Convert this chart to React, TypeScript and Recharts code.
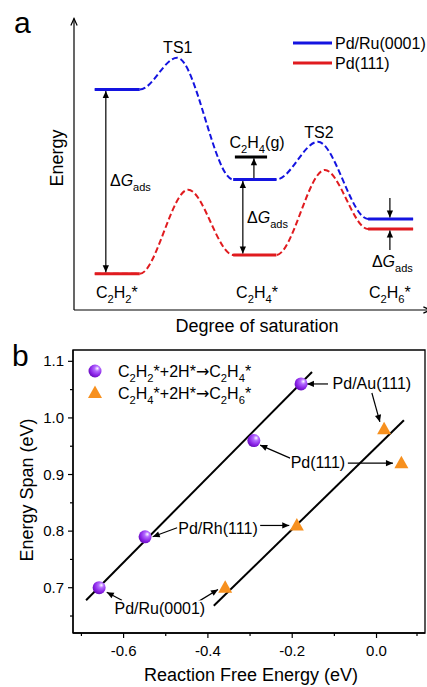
import React from 'react';
import {
  LineChart, Line, XAxis, YAxis, ReferenceLine, ReferenceDot, ReferenceArea,
  ScatterChart, Scatter, Label,
} from 'recharts';

const FONT = '"Liberation Sans", Arial, Helvetica, sans-serif';
const BLUE = '#1414e0';
const RED = '#e01b1f';
const ORANGE = '#f7901e';

// ---- panel a: energy profile (relative units) ----
const intermediates = ['C_2H_2*', 'C_2H_4*', 'C_2H_6*'];
const intermediateX = [12.4, 52.9, 91.3];
const levelSpans = [[6, 19], [46, 58.5], [85, 98]];
const pdRuLevels = [76, 45, 31.4];
const pdRuTS = [87, 58];
const pdRuTSx = [29.8, 70.5];
const pd111Levels = [12.5, 19, 27.9];
const pd111TS = [41.5, 48.3];
const pd111TSx = [33, 72.5];
const c2h4Gas = 52.8;
const c2h4GasSpan = [46.5, 55.8];

// ---- panel b: energy span vs reaction free energy ----
const surfaces = ['Pd/Ru(0001)', 'Pd/Rh(111)', 'Pd(111)', 'Pd/Au(111)'];
const acetyleneDG = [-0.658, -0.549, -0.291, -0.179];
const acetyleneSpan = [0.70, 0.79, 0.96, 1.06];
const ethyleneDG = [-0.359, -0.189, 0.059, 0.018];
const ethyleneSpan = [0.70, 0.81, 0.92, 0.98];
const fitAcetylene = [{ x: -0.689, y: 0.678 }, { x: -0.153, y: 1.081 }];
const fitEthylene = [{ x: -0.386, y: 0.668 }, { x: 0.065, y: 0.996 }];
const xTicks = [-0.7, -0.6, -0.5, -0.4, -0.3, -0.2, -0.1, 0, 0.1];
const yTicks = [0.65, 0.7, 0.75, 0.8, 0.85, 0.9, 0.95, 1.0, 1.05, 1.1];

// label spots (center x, baseline y) and arrows for panel b
const surfaceLabelPos = [
  { x: -0.514, y: 0.6535 }, { x: -0.376, y: 0.795 }, { x: -0.139, y: 0.9115 }, { x: -0.011, y: 1.051 },
];
const surfaceArrows = [
  [{ x: -0.604, y: 0.678 }, { x: -0.64, y: 0.692 }],
  [{ x: -0.424, y: 0.675 }, { x: -0.376, y: 0.697 }],
  [{ x: -0.473, y: 0.806 }, { x: -0.531, y: 0.79 }],
  [{ x: -0.276, y: 0.81 }, { x: -0.207, y: 0.81 }],
  [{ x: -0.205, y: 0.929 }, { x: -0.276, y: 0.952 }],
  [{ x: -0.068, y: 0.92 }, { x: 0.039, y: 0.92 }],
  [{ x: -0.115, y: 1.06 }, { x: -0.165, y: 1.06 }],
  [{ x: -0.011, y: 1.044 }, { x: 0.008, y: 0.993 }],
];

function Chem({ x, y, formula, size = 16, anchor = 'middle' }: any) {
  const parts: React.ReactNode[] = [];
  let inSub = false;
  for (let i = 0; i < formula.length; i++) {
    const c = formula[i];
    if (c === '_') {
      parts.push(<tspan key={i} dy={size * 0.3} fontSize={size * 0.7}>{formula[i + 1]}</tspan>);
      i++;
      inSub = true;
      continue;
    }
    parts.push(
      <tspan key={i} dy={inSub ? -size * 0.3 : 0} fontFamily={c === '→' ? '"DejaVu Sans", sans-serif' : undefined}>{c}</tspan>,
    );
    inSub = false;
  }
  return (
    <text x={x} y={y} fontSize={size} textAnchor={anchor} fontFamily={FONT} fill="#000">{parts}</text>
  );
}

function DeltaG({ x, y }: any) {
  return (
    <text x={x} y={y} fontSize={16} fontFamily={FONT} fill="#000">
      Δ<tspan fontStyle="italic">G</tspan>
      <tspan dy={5} fontSize={11}>ads</tspan>
    </text>
  );
}

const arrowShape = (both: boolean, size = 7, open = false) => (p: any) => {
  const { x1, y1, x2, y2 } = p;
  const a = Math.atan2(y2 - y1, x2 - x1);
  const head = (x: number, y: number, ang: number) => {
    const w = size * 0.45;
    const bx = x - size * Math.cos(ang);
    const by = y - size * Math.sin(ang);
    return `${bx - w * Math.sin(ang)},${by + w * Math.cos(ang)} ${x},${y} ${bx + w * Math.sin(ang)},${by - w * Math.cos(ang)}`;
  };
  return (
    <g>
      <line x1={x1} y1={y1} x2={x2} y2={y2} stroke="#000" strokeWidth={1.2} />
      {open
        ? <polyline points={head(x2, y2, a)} fill="none" stroke="#000" strokeWidth={1.2} />
        : <polygon points={head(x2, y2, a)} fill="#000" />}
      {both && <polygon points={head(x1, y1, a + Math.PI)} fill="#000" />}
    </g>
  );
};

const profile = (levels: number[], ts: number[], tsx: number[]) => [
  { x: levelSpans[0][0], e: levels[0] }, { x: levelSpans[0][1], e: levels[0] },
  { x: tsx[0], e: ts[0] },
  { x: levelSpans[1][0], e: levels[1] }, { x: levelSpans[1][1], e: levels[1] },
  { x: tsx[1], e: ts[1] },
  { x: levelSpans[2][0], e: levels[2] }, { x: levelSpans[2][1], e: levels[2] },
];

function PanelA() {
  const levelLines = (levels: number[], color: string, key: string) =>
    levels.map((e, i) => (
      <Line key={key + i} data={[{ x: levelSpans[i][0], e }, { x: levelSpans[i][1], e }]} dataKey="e"
        stroke={color} strokeWidth={3} dot={false} activeDot={false} isAnimationActive={false} />
    ));
  return (
    <LineChart width={427} height={340} margin={{ top: 20, right: 7, bottom: 0, left: 0 }}>
      <XAxis type="number" dataKey="x" domain={[0, 100]} tick={false} tickLine={false} axisLine={false} height={30} allowDataOverflow>
        <Label content={() => (
          <text x={257} y={332} textAnchor="middle" fontSize={18} fontFamily={FONT}>Degree of saturation</text>
        )} />
      </XAxis>
      <YAxis type="number" dataKey="e" domain={[0, 100]} tick={false} tickLine={false} axisLine={false} width={74} allowDataOverflow>
        <Label content={() => (
          <text x={63} y={158} transform="rotate(-90 63 158)" textAnchor="middle" fontSize={18} fontFamily={FONT}>Energy</text>
        )} />
      </YAxis>
      <ReferenceLine segment={[{ x: 0, y: 0 }, { x: 0, y: 100.5 }]} ifOverflow="visible" shape={arrowShape(false, 7, true)} />
      <ReferenceLine segment={[{ x: 0, y: 0 }, { x: 103, y: 0 }]} ifOverflow="visible" shape={arrowShape(false, 7, true)} />

      <Line data={profile(pdRuLevels, pdRuTS, pdRuTSx)} dataKey="e" type="monotoneX" stroke={BLUE} strokeWidth={2}
        strokeDasharray="6 3" dot={false} activeDot={false} isAnimationActive={false} />
      <Line data={profile(pd111Levels, pd111TS, pd111TSx)} dataKey="e" type="monotoneX" stroke={RED} strokeWidth={2}
        strokeDasharray="6 3" dot={false} activeDot={false} isAnimationActive={false} />
      {levelLines(pdRuLevels, BLUE, 'ru')}
      {levelLines(pd111Levels, RED, 'pd')}
      <Line data={[{ x: c2h4GasSpan[0], e: c2h4Gas }, { x: c2h4GasSpan[1], e: c2h4Gas }]} dataKey="e"
        stroke="#000" strokeWidth={3} dot={false} activeDot={false} isAnimationActive={false} />

      <ReferenceLine segment={[{ x: 9.2, y: pdRuLevels[0] - 0.5 }, { x: 9.2, y: pd111Levels[0] + 0.5 }]} ifOverflow="visible" shape={arrowShape(true)} />
      <ReferenceLine segment={[{ x: 48.8, y: pdRuLevels[1] - 0.5 }, { x: 48.8, y: pd111Levels[1] + 0.5 }]} ifOverflow="visible" shape={arrowShape(true)} />
      <ReferenceLine segment={[{ x: 52, y: pdRuLevels[1] + 0.5 }, { x: 52, y: c2h4Gas - 0.5 }]} ifOverflow="visible" shape={arrowShape(false)} />
      <ReferenceLine segment={[{ x: 91.3, y: 38.6 }, { x: 91.3, y: pdRuLevels[2] + 0.5 }]} ifOverflow="visible" shape={arrowShape(false)} />
      <ReferenceLine segment={[{ x: 91.3, y: 20.7 }, { x: 91.3, y: pd111Levels[2] - 0.5 }]} ifOverflow="visible" shape={arrowShape(false)} />

      <ReferenceDot x={30} y={88.6} ifOverflow="visible" shape={(p: any) => <Chem x={p.cx} y={p.cy} formula="TS1" />} />
      <ReferenceDot x={70.8} y={59.3} ifOverflow="visible" shape={(p: any) => <Chem x={p.cx} y={p.cy} formula="TS2" />} />
      <ReferenceDot x={52.9} y={55.9} ifOverflow="visible" shape={(p: any) => <Chem x={p.cx} y={p.cy} formula="C_2H_4(g)" />} />
      <ReferenceDot x={10.4} y={42.8} ifOverflow="visible" shape={(p: any) => <DeltaG x={p.cx} y={p.cy} />} />
      <ReferenceDot x={50} y={30} ifOverflow="visible" shape={(p: any) => <DeltaG x={p.cx} y={p.cy} />} />
      <ReferenceDot x={86.1} y={14.8} ifOverflow="visible" shape={(p: any) => <DeltaG x={p.cx} y={p.cy} />} />
      {intermediates.map((f, i) => (
        <ReferenceDot key={f} x={intermediateX[i]} y={4.1} ifOverflow="visible"
          shape={(p: any) => <Chem x={p.cx} y={p.cy} formula={f} />} />
      ))}
    </LineChart>
  );
}

const XTick = (p: any) => {
  const { x, y, payload } = p;
  const v = payload.value;
  const major = Math.round(v * 10) % 2 === 0;
  return (
    <g>
      <line x1={x} y1={y} x2={x} y2={y + (major ? 5 : 3)} stroke="#000" strokeWidth={1.2} />
      {major && <text x={x} y={y + 23} textAnchor="middle" fontSize={15} fontFamily={FONT}>{v.toFixed(1)}</text>}
    </g>
  );
};

const YTick = (p: any) => {
  const { x, y, payload } = p;
  const v = payload.value;
  const major = Math.round(v * 100) % 10 === 0;
  return (
    <g>
      <line x1={x} y1={y} x2={x - (major ? 5 : 3)} y2={y} stroke="#000" strokeWidth={1.2} />
      {major && <text x={x - 9} y={y + 5} textAnchor="end" fontSize={15} fontFamily={FONT}>{v.toFixed(1)}</text>}
    </g>
  );
};

const Ball = (p: any) => <circle cx={p.cx} cy={p.cy} r={6.5} fill="url(#ballGrad)" />;
const Tri = (p: any) => (
  <polygon points={`${p.cx},${p.cy - 7.5} ${p.cx - 7},${p.cy + 5} ${p.cx + 7},${p.cy + 5}`} fill={ORANGE} />
);

function PanelB() {
  const acetylene = acetyleneDG.map((x, i) => ({ x, y: acetyleneSpan[i] }));
  const ethylene = ethyleneDG.map((x, i) => ({ x, y: ethyleneSpan[i] }));
  return (
    <ScatterChart width={427} height={347} margin={{ top: 10, right: 2, bottom: 0, left: 0 }}>
      <XAxis type="number" dataKey="x" domain={[-0.72, 0.115]} ticks={xTicks} tick={<XTick />} tickLine={false}
        tickSize={0} tickMargin={0} height={54} allowDataOverflow stroke="#000" strokeWidth={1.3}>
        <Label content={() => (
          <text x={251} y={341} textAnchor="middle" fontSize={18} fontFamily={FONT}>Reaction Free Energy (eV)</text>
        )} />
      </XAxis>
      <YAxis type="number" dataKey="y" domain={[0.62, 1.12]} ticks={yTicks} tick={<YTick />} tickLine={false}
        tickSize={0} tickMargin={0} width={73} allowDataOverflow stroke="#000" strokeWidth={1.3}>
        <Label content={() => (
          <text x={33} y={150} transform="rotate(-90 33 150)" textAnchor="middle" fontSize={18} fontFamily={FONT}>Energy Span (eV)</text>
        )} />
      </YAxis>
      <ReferenceArea x1={-0.72} x2={0.115} y1={0.62} y2={1.12} fill="none" stroke="#000" strokeWidth={1.3} ifOverflow="visible" />
      <Scatter data={fitAcetylene} line={{ stroke: '#000', strokeWidth: 2 }} shape={() => <g />} isAnimationActive={false} />
      <Scatter data={fitEthylene} line={{ stroke: '#000', strokeWidth: 2 }} shape={() => <g />} isAnimationActive={false} />
      {surfaceArrows.map((seg, i) => (
        <ReferenceLine key={i} segment={seg} ifOverflow="visible" shape={arrowShape(false, 7)} />
      ))}
      {surfaces.map((s, i) => (
        <ReferenceDot key={s} x={surfaceLabelPos[i].x} y={surfaceLabelPos[i].y} ifOverflow="visible"
          shape={(p: any) => <text x={p.cx} y={p.cy} textAnchor="middle" fontSize={16} fontFamily={FONT}
            stroke="#fff" strokeWidth={3} paintOrder="stroke">{s}</text>} />
      ))}
      <Scatter data={acetylene} shape={Ball} isAnimationActive={false} />
      <Scatter data={ethylene} shape={Tri} isAnimationActive={false} />
    </ScatterChart>
  );
}

export default function App() {
  return (
    <div style={{ position: 'absolute', left: 0, top: 0, width: 427, height: 687, background: '#fff', fontFamily: FONT }}>
      <svg width={0} height={0} style={{ position: 'absolute' }}>
        <defs>
          <radialGradient id="ballGrad" cx="0.62" cy="0.35" r="0.65" fx="0.68" fy="0.3">
            <stop offset="0" stopColor="#ffffff" />
            <stop offset="0.3" stopColor="#b46cff" />
            <stop offset="0.75" stopColor="#8a22e6" />
            <stop offset="1" stopColor="#6a10c0" />
          </radialGradient>
        </defs>
      </svg>
      <div style={{ position: 'absolute', left: 0, top: 0 }}>
        <PanelA />
      </div>
      <div style={{ position: 'absolute', left: 0, top: 340 }}>
        <PanelB />
      </div>
      <svg width={427} height={687} style={{ position: 'absolute', left: 0, top: 0, pointerEvents: 'none' }}>
        <text x={14} y={33} fontSize={30} fontFamily={FONT}>a</text>
        <text x={12} y={366} fontSize={30} fontFamily={FONT}>b</text>
        <line x1={293} y1={43} x2={332} y2={43} stroke={BLUE} strokeWidth={3} />
        <text x={335} y={49} fontSize={16} fontFamily={FONT}>Pd/Ru(0001)</text>
        <line x1={293} y1={63} x2={332} y2={63} stroke={RED} strokeWidth={3} />
        <text x={335} y={69} fontSize={16} fontFamily={FONT}>Pd(111)</text>
        <circle cx={95} cy={371} r={6.5} fill="url(#ballGrad)" />
        <Chem x={118} y={377} formula="C_2H_2*+2H*→C_2H_4*" anchor="start" />
        <polygon points="95,385.5 88,398 102,398" fill={ORANGE} />
        <Chem x={118} y={399} formula="C_2H_4*+2H*→C_2H_6*" anchor="start" />
      </svg>
    </div>
  );
}
